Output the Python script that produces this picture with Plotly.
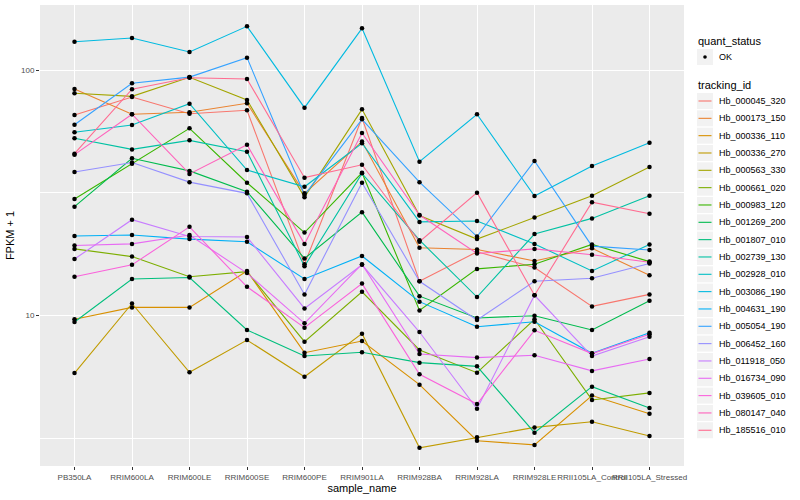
import plotly.graph_objects as go

samples = ["PB350LA", "RRIM600LA", "RRIM600LE", "RRIM600SE", "RRIM600PE", "RRIM901LA",
           "RRIM928BA", "RRIM928LA", "RRIM928LE", "RRII105LA_Control", "RRII105LA_Stressed"]

# FPKM + 1 values
hb_000045_320 = [65.7, 77.8, 66.5, 68.7, 16.2, 63.9, 13.8, 18.2, 15.7, 10.9, 12.2]
hb_000173_150 = [83.9, 66.2, 67.4, 73.4, 31.5, 51.2, 18.9, 18.6, 16.7, 18.8, 14.6]
hb_000336_110 = [9.66, 10.8, 10.8, 15.2, 7.06, 7.88, 5.23, 3.09, 2.97, 4.72, 3.98]
hb_000336_270 = [5.83, 11.2, 5.87, 7.95, 5.63, 8.44, 2.89, 3.19, 3.50, 3.69, 3.23]
hb_000563_330 = [80.6, 78.3, 93.6, 75.7, 30.4, 69.3, 25.6, 20.5, 25.1, 30.8, 40.3]
hb_000661_020 = [18.7, 17.4, 14.4, 15.1, 7.83, 12.5, 7.24, 5.85, 9.66, 4.53, 4.84]
hb_000983_120 = [29.9, 41.6, 58.0, 34.8, 21.8, 38.2, 10.5, 15.5, 16.2, 19.5, 16.6]
hb_001269_200 = [27.8, 43.8, 38.9, 32.0, 17.1, 26.4, 12.0, 9.78, 9.99, 8.74, 11.5]
hb_001807_010 = [9.42, 14.1, 14.3, 8.74, 6.84, 7.09, 6.43, 6.21, 3.33, 5.13, 4.20]
hb_002739_130 = [52.8, 47.6, 51.8, 46.6, 15.9, 38.0, 20.3, 11.9, 21.5, 24.9, 30.8]
hb_002928_010 = [55.9, 59.8, 73.1, 39.2, 33.5, 50.4, 24.1, 24.3, 19.6, 15.2, 19.5]
hb_003086_190 = [130.8, 135.4, 118.7, 151.1, 70.4, 148.3, 42.4, 66.2, 30.7, 40.7, 50.7]
hb_004631_190 = [21.1, 21.3, 20.5, 20.0, 14.1, 17.5, 11.4, 9.01, 9.44, 7.02, 8.52]
hb_005054_190 = [60.0, 88.5, 93.8, 112.6, 31.0, 63.1, 35.0, 21.0, 42.7, 19.2, 18.5]
hb_006452_160 = [38.5, 42.1, 35.0, 31.5, 12.2, 34.8, 13.8, 9.59, 13.8, 14.2, 16.3]
hb_011918_050 = [17.0, 24.6, 21.0, 20.9, 10.7, 16.1, 8.57, 4.17, 12.1, 6.84, 8.20]
hb_016734_090 = [19.3, 19.6, 21.3, 14.9, 9.30, 16.2, 6.97, 6.74, 6.89, 5.95, 6.65]
hb_039605_010 = [14.4, 16.1, 23.0, 13.1, 8.93, 13.5, 5.76, 4.36, 8.71, 7.00, 8.39]
hb_080147_040 = [45.3, 66.2, 37.8, 49.7, 19.6, 55.5, 25.7, 17.9, 18.7, 17.7, 16.5]
hb_185516_010 = [45.7, 83.7, 93.2, 92.2, 36.5, 41.2, 20.0, 31.7, 12.1, 29.0, 26.0]

tracking_ids = ["Hb_000045_320", "Hb_000173_150", "Hb_000336_110", "Hb_000336_270", "Hb_000563_330",
                "Hb_000661_020", "Hb_000983_120", "Hb_001269_200", "Hb_001807_010", "Hb_002739_130",
                "Hb_002928_010", "Hb_003086_190", "Hb_004631_190", "Hb_005054_190", "Hb_006452_160",
                "Hb_011918_050", "Hb_016734_090", "Hb_039605_010", "Hb_080147_040", "Hb_185516_010"]
series_values = [hb_000045_320, hb_000173_150, hb_000336_110, hb_000336_270, hb_000563_330,
                 hb_000661_020, hb_000983_120, hb_001269_200, hb_001807_010, hb_002739_130,
                 hb_002928_010, hb_003086_190, hb_004631_190, hb_005054_190, hb_006452_160,
                 hb_011918_050, hb_016734_090, hb_039605_010, hb_080147_040, hb_185516_010]
colors = ["#F8766D", "#EA8331", "#D89000", "#C09B00", "#A3A500", "#7CAE00", "#39B600", "#00BB4E",
          "#00BF7D", "#00C1A3", "#00BFC4", "#00BAE0", "#00B0F6", "#35A2FF", "#9590FF", "#C77CFF",
          "#E76BF3", "#FA62DB", "#FF62BC", "#FF6C91"]
status_levels = ["OK"]

FONT = "Liberation Sans, Arial, sans-serif"

# plot panel geometry (pixels) used to place the hand-built legend
W, H = 800, 500
ML, MR, MT, MB = 40, 116, 5, 34
PW, PH = W - ML - MR, H - MT - MB


def px(x):
    return (x - ML) / PW


def py(y):
    return (H - MB - y) / PH


fig = go.Figure()
for name, vals, col in zip(tracking_ids, series_values, colors):
    fig.add_trace(go.Scatter(x=samples, y=vals, mode="lines", name=name,
                             line=dict(color=col, width=1.1), showlegend=False))

all_x = [s for _ in series_values for s in samples]
all_y = [v for vals in series_values for v in vals]
fig.add_trace(go.Scatter(x=all_x, y=all_y, mode="markers", name=status_levels[0],
                         marker=dict(color="black", size=4.5), showlegend=False))

shapes = []
annotations = []
# quant_status legend
annotations.append(dict(text="quant_status", x=px(696), y=py(41), xref="paper", yref="paper",
                        xanchor="left", yanchor="middle", showarrow=False,
                        font=dict(size=11, color="black", family=FONT)))
shapes.append(dict(type="rect", xref="paper", yref="paper", x0=px(697), x1=px(713),
                   y0=py(65), y1=py(49), fillcolor="#F2F2F2", line=dict(width=0), layer="above"))
shapes.append(dict(type="circle", xref="paper", yref="paper", x0=px(703.2), x1=px(706.8),
                   y0=py(58.8), y1=py(55.2), fillcolor="black", line=dict(width=0), layer="above"))
annotations.append(dict(text=status_levels[0], x=px(717), y=py(57), xref="paper", yref="paper",
                        xanchor="left", yanchor="middle", showarrow=False,
                        font=dict(size=9, color="black", family=FONT)))
# tracking_id legend
annotations.append(dict(text="tracking_id", x=px(696), y=py(84.5), xref="paper", yref="paper",
                        xanchor="left", yanchor="middle", showarrow=False,
                        font=dict(size=11, color="black", family=FONT)))
step = 17.33
for i, (name, col) in enumerate(zip(tracking_ids, colors)):
    cy = 101 + i * step
    shapes.append(dict(type="rect", xref="paper", yref="paper", x0=px(697), x1=px(713),
                       y0=py(cy + 8.0), y1=py(cy - 8.0), fillcolor="#F2F2F2",
                       line=dict(width=0), layer="above"))
    shapes.append(dict(type="line", xref="paper", yref="paper", x0=px(698.5), x1=px(711.5),
                       y0=py(cy), y1=py(cy), line=dict(color=col, width=1.1), layer="above"))
    annotations.append(dict(text=name, x=px(717), y=py(cy), xref="paper", yref="paper",
                            xanchor="left", yanchor="middle", showarrow=False,
                            font=dict(size=9, color="black", family=FONT)))

fig.update_layout(
    width=W, height=H,
    margin=dict(l=ML, r=MR, t=MT, b=MB, autoexpand=False),
    paper_bgcolor="white", plot_bgcolor="#EBEBEB",
    font=dict(family=FONT, color="black", size=9),
    showlegend=False,
    xaxis=dict(type="category", categoryorder="array", categoryarray=samples,
               range=[-0.6, 10.6], showgrid=True, gridcolor="white", gridwidth=1.1,
               tickangle=0, ticks="outside", ticklen=3, tickcolor="#333333",
               tickfont=dict(size=8, color="#4D4D4D", family=FONT), automargin=False,
               title=dict(text="sample_name", font=dict(size=11, family=FONT), standoff=3),
               zeroline=False, showline=False),
    yaxis=dict(type="log", range=[0.3868, 2.2662], tickvals=[10, 100], ticktext=["10", "100"],
               showgrid=True, gridcolor="white", gridwidth=1.1,
               minor=dict(tickvals=[10 ** 0.5, 10 ** 1.5], showgrid=True, gridcolor="white",
                          gridwidth=0.55, ticks=""),
               ticks="outside", ticklen=3, tickcolor="#333333", automargin=False,
               tickfont=dict(size=8, color="#4D4D4D", family=FONT),
               title=dict(text="FPKM + 1", font=dict(size=11, family=FONT), standoff=4),
               zeroline=False, showline=False),
    shapes=shapes,
    annotations=annotations,
)

fig.write_html("out.html", config={"displayModeBar": False},
               post_script="document.body.style.margin='0px';document.body.style.overflow='hidden';")
